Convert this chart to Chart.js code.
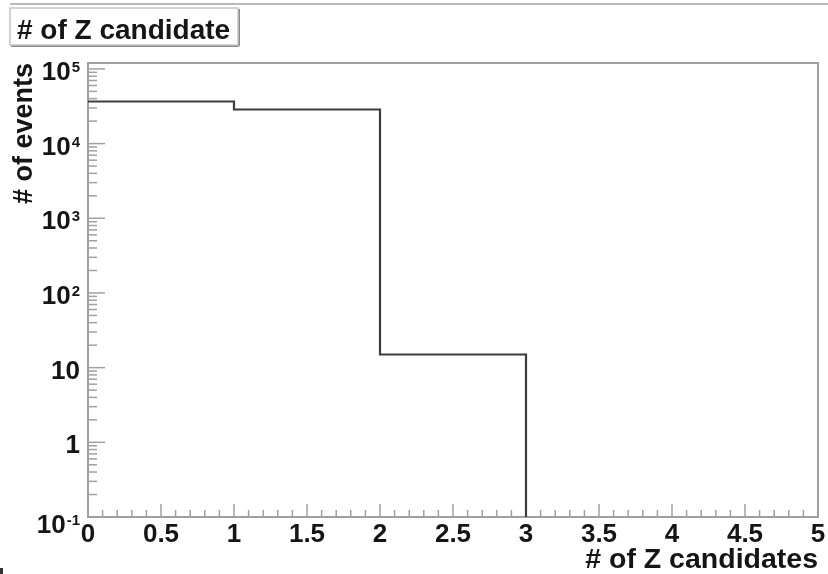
<!DOCTYPE html>
<html lang="en">
<head>
    <meta charset="UTF-8">
    <title># of Z candidate</title>
    <script src="https://cdn.jsdelivr.net/npm/chart.js"></script>
    <style>
        body { margin: 0; background: #fff; }
        #wrap { width: 828px; height: 574px; }
    </style>
</head>
<body>
    <div id="wrap"><canvas id="myChart" width="828" height="574"></canvas></div>
    <script>
        // histogram: bin edges and entries per bin
        const binEdges = [0, 1, 2, 3, 4, 5];
        const binCounts = [36600, 28600, 15, 0, 0];

        // axis ticks
        const xTickValues = [0, 0.5, 1, 1.5, 2, 2.5, 3, 3.5, 4, 4.5, 5];
        const xTickLabels = ['0', '0.5', '1', '1.5', '2', '2.5', '3', '3.5', '4', '4.5', '5'];
        const yTickValues = [0.1, 1, 10, 100, 1000, 10000, 100000];
        const yTickBase = ['10', '1', '10', '10', '10', '10', '10'];
        const yTickExp = ['-1', '', '', '2', '3', '4', '5'];

        const histTitle = '# of Z candidate';
        const xTitle = '# of Z candidates';
        const yTitle = '# of events';

        const yMin = 0.1, yMax = 1.2e5;
        const FONT = '"Liberation Sans", Arial, Helvetica, sans-serif';

        // step line points (zero bins pushed below the log axis and clipped)
        const points = [];
        for (let i = 0; i < binCounts.length; i++) {
            points.push({ x: binEdges[i], y: binCounts[i] > 0 ? binCounts[i] : yMin / 10 });
        }
        points.push({ x: binEdges[binEdges.length - 1], y: points[points.length - 1].y });

        function line(ctx, x1, y1, x2, y2) {
            ctx.beginPath();
            ctx.moveTo(x1, y1);
            ctx.lineTo(x2, y2);
            ctx.stroke();
        }

        const rootAxes = {
            id: 'rootAxes',
            beforeDatasetsDraw(chart) {
                const { ctx, chartArea: a, scales: { x, y } } = chart;
                ctx.save();
                // pad border line at the top
                ctx.strokeStyle = '#b8b8b8';
                ctx.lineWidth = 2;
                line(ctx, 10, 4, 828, 4);

                // frame
                ctx.strokeStyle = '#a0a0a0';
                ctx.lineWidth = 2;
                ctx.strokeRect(a.left, a.top, a.right - a.left, a.bottom - a.top);

                // x ticks (inside, minor every 0.1)
                ctx.lineWidth = 1.5;
                for (let k = 0; k <= 50; k++) {
                    const v = k / 10;
                    const px = x.getPixelForValue(v);
                    const major = xTickValues.some(t => Math.abs(t - v) < 1e-6);
                    line(ctx, px, a.bottom, px, a.bottom - (major ? 13 : 7));
                }

                // y ticks (log, minor at 2..9)
                for (let e = -1; e <= 5; e++) {
                    for (let m = 1; m <= 9; m++) {
                        const v = m * Math.pow(10, e);
                        if (v < y.min || v > y.max) continue;
                        const py = y.getPixelForValue(v);
                        line(ctx, a.left, py, a.left + (m === 1 ? 17 : 9), py);
                    }
                }
                ctx.restore();
            },
            afterDraw(chart) {
                const { ctx, chartArea: a, scales: { x, y } } = chart;
                ctx.save();
                ctx.fillStyle = '#151515';

                // x tick labels
                ctx.font = 'bold 26px ' + FONT;
                ctx.textAlign = 'center';
                ctx.textBaseline = 'alphabetic';
                xTickValues.forEach((v, i) => {
                    ctx.fillText(xTickLabels[i], x.getPixelForValue(v), 542);
                });

                // y tick labels with exponents
                ctx.textAlign = 'left';
                const right = 80;
                yTickValues.forEach((v, i) => {
                    const py = y.getPixelForValue(v);
                    ctx.font = 'bold 15px ' + FONT;
                    const we = yTickExp[i] ? ctx.measureText(yTickExp[i]).width + 1 : 0;
                    ctx.font = 'bold 26px ' + FONT;
                    const wb = ctx.measureText(yTickBase[i]).width;
                    let base = py + 11;
                    if (v === y.min) base = py + 16;
                    const x0 = right - we - wb;
                    ctx.fillText(yTickBase[i], x0, base);
                    if (yTickExp[i]) {
                        ctx.font = 'bold 15px ' + FONT;
                        ctx.fillText(yTickExp[i], x0 + wb + 1, base - 8);
                    }
                });

                // axis titles
                ctx.font = 'bold 28.5px ' + FONT;
                ctx.textAlign = 'right';
                ctx.fillText(xTitle, a.right, 568);

                ctx.save();
                ctx.font = 'bold 27px ' + FONT;
                ctx.translate(32, a.top);
                ctx.rotate(-Math.PI / 2);
                ctx.textAlign = 'right';
                ctx.fillText(yTitle, 0, 0);
                ctx.restore();

                // title box
                ctx.fillStyle = '#fff';
                ctx.fillRect(10, 8, 228, 37);
                ctx.strokeStyle = '#8a8a8a';
                ctx.lineWidth = 2;
                line(ctx, 239, 9, 239, 46);
                line(ctx, 11, 46, 239, 46);
                ctx.strokeStyle = '#c4c4c4';
                ctx.lineWidth = 1.5;
                ctx.strokeRect(10, 8, 228, 37);
                ctx.fillStyle = '#151515';
                ctx.textAlign = 'left';
                ctx.font = 'bold 28px ' + FONT;
                ctx.fillText(histTitle, 17, 39);

                // small corner mark
                ctx.fillStyle = '#333';
                ctx.fillRect(0, 568, 3, 6);
                ctx.restore();
            }
        };

        const config = {
            type: 'line',
            data: {
                datasets: [{
                    label: histTitle,
                    data: points,
                    stepped: 'before',
                    borderColor: '#3c3c3c',
                    borderWidth: 2.2,
                    pointRadius: 0,
                    fill: false
                }]
            },
            options: {
                responsive: false,
                animation: false,
                devicePixelRatio: 1,
                layout: { padding: { left: 88, top: 63, right: 10, bottom: 57 } },
                plugins: {
                    legend: { display: false },
                    tooltip: { enabled: false }
                },
                scales: {
                    x: { type: 'linear', min: 0, max: 5, display: false },
                    y: { type: 'logarithmic', min: yMin, max: yMax, display: false }
                }
            },
            plugins: [rootAxes]
        };

        new Chart(document.getElementById('myChart'), config);
    </script>
</body>
</html>
